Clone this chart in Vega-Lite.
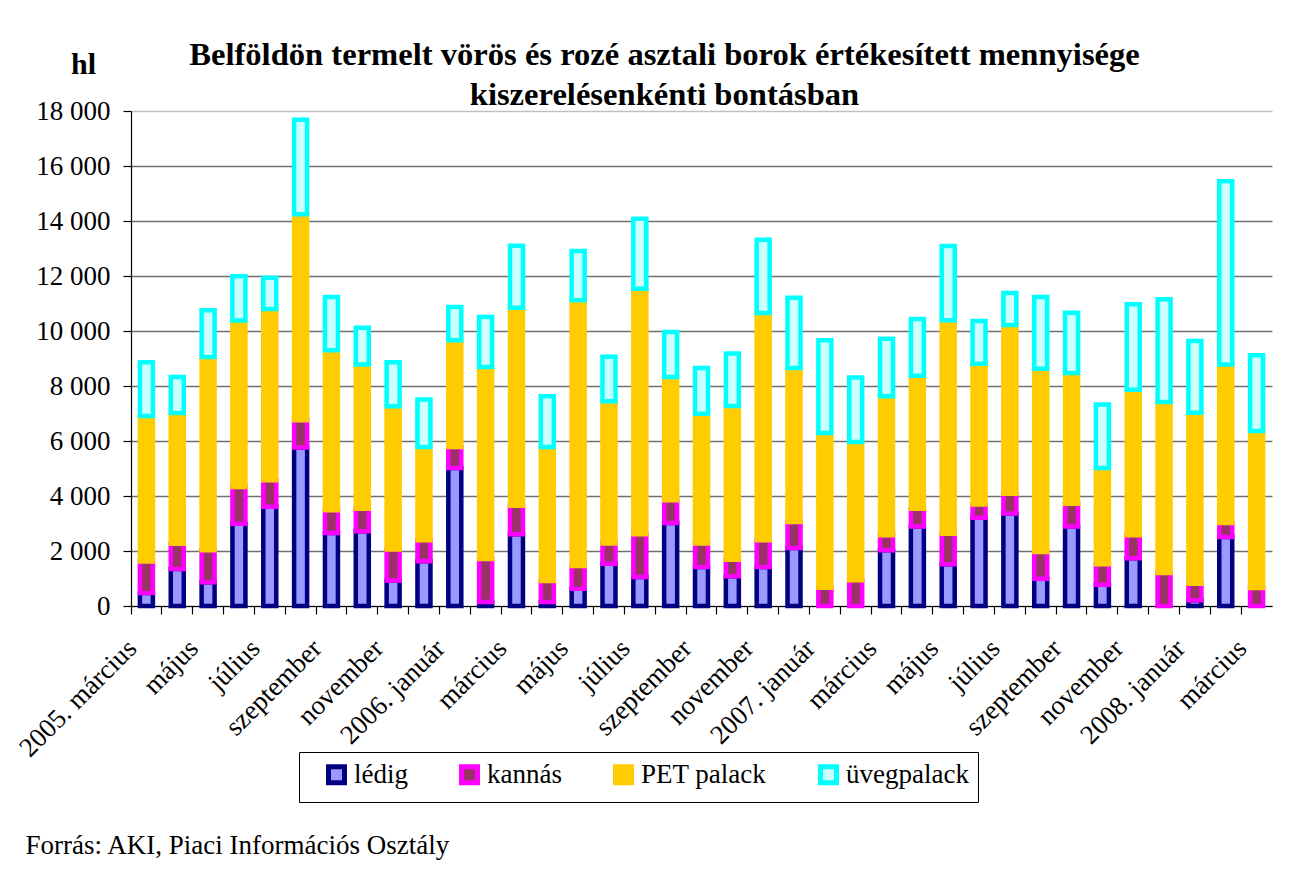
{
  "$schema": "https://vega.github.io/schema/vega-lite/v6.json",
  "autosize": {"type": "none"},
  "padding": {"left": 131, "top": 111, "right": 21, "bottom": 270},
  "width": 1141,
  "height": 495,
  "background": "white",
  "title": {
    "text": ["Belföldön termelt vörös és rozé asztali borok értékesített mennyisége", "kiszerelésenkénti bontásban"],
    "font": "Liberation Serif",
    "fontSize": 32.6,
    "fontWeight": "bold",
    "color": "black",
    "anchor": "middle",
    "frame": "group",
    "dx": -37,
    "dy": 67,
    "lineHeight": 40
  },
  "data": {
    "values": [
      {"ho": "2005-03", "lédig": 470, "kannás": 1150, "PET palack": 5290, "üvegpalack": 1950},
      {"ho": "2005-04", "lédig": 1345, "kannás": 920, "PET palack": 4750, "üvegpalack": 1310},
      {"ho": "2005-05", "lédig": 860, "kannás": 1165, "PET palack": 7030, "üvegpalack": 1700},
      {"ho": "2005-06", "lédig": 2990, "kannás": 1335, "PET palack": 6060, "üvegpalack": 1610},
      {"ho": "2005-07", "lédig": 3610, "kannás": 960, "PET palack": 6230, "üvegpalack": 1140},
      {"ho": "2005-08", "lédig": 5760, "kannás": 995, "PET palack": 7490, "üvegpalack": 3440},
      {"ho": "2005-09", "lédig": 2655, "kannás": 825, "PET palack": 5820, "üvegpalack": 1940},
      {"ho": "2005-10", "lédig": 2715, "kannás": 825, "PET palack": 5240, "üvegpalack": 1335},
      {"ho": "2005-11", "lédig": 930, "kannás": 1125, "PET palack": 5210, "üvegpalack": 1600},
      {"ho": "2005-12", "lédig": 1625, "kannás": 765, "PET palack": 3395, "üvegpalack": 1720},
      {"ho": "2006-01", "lédig": 5020, "kannás": 765, "PET palack": 3880, "üvegpalack": 1210},
      {"ho": "2006-02", "lédig": 145, "kannás": 1565, "PET palack": 6980, "üvegpalack": 1820},
      {"ho": "2006-03", "lédig": 2605, "kannás": 1040, "PET palack": 7200, "üvegpalack": 2255},
      {"ho": "2006-04", "lédig": 145, "kannás": 765, "PET palack": 4875, "üvegpalack": 1840},
      {"ho": "2006-05", "lédig": 630, "kannás": 825, "PET palack": 9660, "üvegpalack": 1795},
      {"ho": "2006-06", "lédig": 1540, "kannás": 730, "PET palack": 5175, "üvegpalack": 1615},
      {"ho": "2006-07", "lédig": 1055, "kannás": 1550, "PET palack": 8935, "üvegpalack": 2545},
      {"ho": "2006-08", "lédig": 3020, "kannás": 825, "PET palack": 4485, "üvegpalack": 1635},
      {"ho": "2006-09", "lédig": 1420, "kannás": 850, "PET palack": 4725, "üvegpalack": 1660},
      {"ho": "2006-10", "lédig": 1080, "kannás": 605, "PET palack": 5590, "üvegpalack": 1905},
      {"ho": "2006-11", "lédig": 1420, "kannás": 970, "PET palack": 8265, "üvegpalack": 2665},
      {"ho": "2006-12", "lédig": 2110, "kannás": 945, "PET palack": 5600, "üvegpalack": 2555},
      {"ho": "2007-01", "lédig": 0, "kannás": 665, "PET palack": 5625, "üvegpalack": 3370},
      {"ho": "2007-02", "lédig": 0, "kannás": 935, "PET palack": 5030, "üvegpalack": 2340},
      {"ho": "2007-03", "lédig": 2025, "kannás": 545, "PET palack": 5055, "üvegpalack": 2095},
      {"ho": "2007-04", "lédig": 2895, "kannás": 640, "PET palack": 4835, "üvegpalack": 2070},
      {"ho": "2007-05", "lédig": 1515, "kannás": 1115, "PET palack": 7760, "üvegpalack": 2705},
      {"ho": "2007-06", "lédig": 3210, "kannás": 485, "PET palack": 5115, "üvegpalack": 1550},
      {"ho": "2007-07", "lédig": 3360, "kannás": 725, "PET palack": 6135, "üvegpalack": 1165},
      {"ho": "2007-08", "lédig": 995, "kannás": 970, "PET palack": 6665, "üvegpalack": 2605},
      {"ho": "2007-09", "lédig": 2895, "kannás": 825, "PET palack": 4750, "üvegpalack": 2195},
      {"ho": "2007-10", "lédig": 775, "kannás": 740, "PET palack": 3505, "üvegpalack": 2305},
      {"ho": "2007-11", "lédig": 1735, "kannás": 835, "PET palack": 5295, "üvegpalack": 3105},
      {"ho": "2007-12", "lédig": 0, "kannás": 1200, "PET palack": 6220, "üvegpalack": 3735},
      {"ho": "2008-01", "lédig": 205, "kannás": 605, "PET palack": 6220, "üvegpalack": 2605},
      {"ho": "2008-02", "lédig": 2510, "kannás": 510, "PET palack": 5760, "üvegpalack": 6665},
      {"ho": "2008-03", "lédig": 0, "kannás": 655, "PET palack": 5710, "üvegpalack": 2750}
    ]
  },
  "transform": [
    {"fold": ["lédig", "kannás", "PET palack", "üvegpalack"], "as": ["kiszereles", "hl"]},
    {"filter": "datum.hl > 0"},
    {"calculate": "indexof(['lédig','kannás','PET palack','üvegpalack'], datum.kiszereles)", "as": "sorrend"}
  ],
  "mark": {"type": "bar", "size": 13, "strokeWidth": 4.5},
  "encoding": {
    "x": {
      "field": "ho",
      "type": "ordinal",
      "scale": {"paddingInner": 0, "paddingOuter": 0},
      "title": "Forrás: AKI, Piaci Információs Osztály",
      "axis": {
        "bandPosition": 0,
        "labelAngle": -45,
        "labelAlign": "right",
        "labelBaseline": "middle",
        "labelOffset": -14,
        "labelPadding": 30,
        "labelLimit": 400,
        "labelFontSize": 27,
        "tickSize": 8,
        "labelExpr": "toNumber(substring(datum.value,5,7)) % 2 == 0 ? '' : ((substring(datum.value,5,7) == '01' || datum.value == '2005-03') ? substring(datum.value,0,4) + '. ' : '') + ['január','február','március','április','május','június','július','augusztus','szeptember','október','november','december'][toNumber(substring(datum.value,5,7)) - 1]",
        "titleX": -106,
        "titleY": 239,
        "titleAlign": "left",
        "titleBaseline": "middle",
        "titleFontSize": 27,
        "titleFontWeight": "normal",
        "grid": false
      }
    },
    "y": {
      "field": "hl",
      "type": "quantitative",
      "stack": "zero",
      "scale": {"domain": [0, 18000], "nice": false},
      "title": "hl",
      "axis": {
        "values": [0, 2000, 4000, 6000, 8000, 10000, 12000, 14000, 16000, 18000],
        "labelExpr": "replace(format(datum.value, ','), ',', ' ')",
        "labelFontSize": 27,
        "labelPadding": 13,
        "tickSize": 8,
        "grid": true,
        "gridColor": {"condition": {"test": "datum.value == 18000", "value": "#c0c0c0"}, "value": "#707070"},
        "gridWidth": 1.5,
        "titleAngle": 0,
        "titleX": -48,
        "titleY": -38,
        "titleAlign": "center",
        "titleBaseline": "alphabetic",
        "titleFontSize": 30,
        "titleFontWeight": "bold"
      }
    },
    "fill": {
      "field": "kiszereles",
      "type": "nominal",
      "scale": {"domain": ["lédig", "kannás", "PET palack", "üvegpalack"], "range": ["#9999FF", "#993366", "#FFCC00", "#CCFFFF"]},
      "legend": {
        "title": null, "orient": "none", "legendX": 168, "legendY": 641, "direction": "horizontal",
        "strokeColor": "black", "fillColor": "white", "padding": 9, "symbolOffset": 15,
        "symbolType": "square", "symbolSize": 256, "symbolStrokeWidth": 5,
        "labelFontSize": 27, "labelOffset": 4, "columnPadding": 33
      }
    },
    "stroke": {
      "field": "kiszereles",
      "type": "nominal",
      "scale": {"domain": ["lédig", "kannás", "PET palack", "üvegpalack"], "range": ["#000080", "#FF00FF", "#FFCC00", "#00FFFF"]},
      "legend": {
        "title": null, "orient": "none", "legendX": 168, "legendY": 641, "direction": "horizontal",
        "strokeColor": "black", "fillColor": "white", "padding": 9, "symbolOffset": 15,
        "symbolType": "square", "symbolSize": 256, "symbolStrokeWidth": 5,
        "labelFontSize": 27, "labelOffset": 4, "columnPadding": 33
      }
    },
    "order": {"field": "sorrend", "type": "quantitative", "sort": "ascending"}
  },
  "config": {
    "font": "Liberation Serif",
    "view": {"stroke": null},
    "axis": {
      "labelFont": "Liberation Serif",
      "titleFont": "Liberation Serif",
      "labelColor": "black",
      "titleColor": "black",
      "domainColor": "black",
      "tickColor": "black",
      "domainWidth": 1.2,
      "tickWidth": 1.2
    },
    "legend": {"labelFont": "Liberation Serif", "labelColor": "black"}
  }
}
